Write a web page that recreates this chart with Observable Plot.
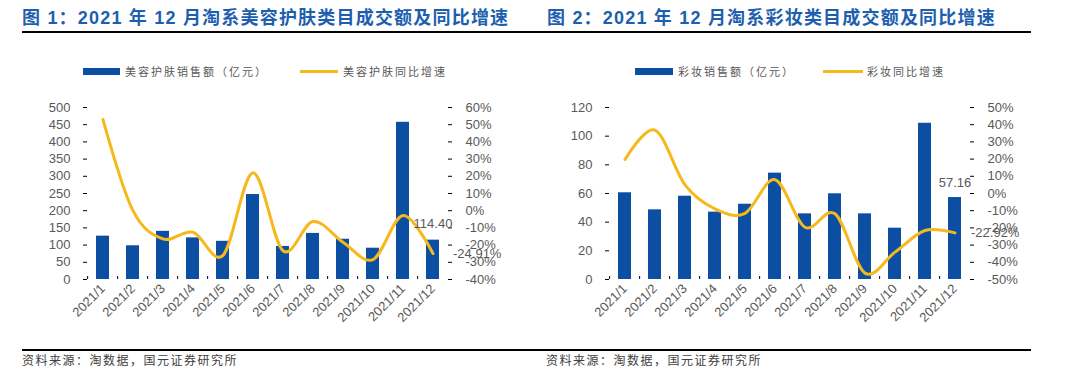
<!DOCTYPE html>
<html><head><meta charset="utf-8">
<script src="https://cdn.jsdelivr.net/npm/d3@7"></script>
<script src="https://cdn.jsdelivr.net/npm/@observablehq/plot@0.6"></script>
<style>
body{margin:0;background:#fff;}
#page{position:relative;width:1077px;height:384px;overflow:hidden;font-family:"Liberation Sans","Noto Sans CJK SC",sans-serif;background:#fff;}
.title{position:absolute;top:8px;line-height:20px;font-size:18px;font-weight:bold;color:#1d5fae;letter-spacing:1.2px;white-space:nowrap;}
.rule{position:absolute;left:22px;width:1009px;height:2px;background:#000;}
.lg{position:absolute;top:64px;line-height:14px;font-size:11px;color:#595959;letter-spacing:2px;white-space:nowrap;font-family:"Noto Sans CJK SC",sans-serif;}
.sw{position:absolute;}
.src{position:absolute;top:353px;line-height:14px;font-size:12px;color:#404040;letter-spacing:1.5px;white-space:nowrap;font-family:"Noto Sans CJK SC",sans-serif;}
.chart{position:absolute;top:95px;}
</style></head>
<body><div id="page">
<div class="title" style="left:22px">图 1：2021 年 12 月淘系美容护肤类目成交额及同比增速</div>
<div class="title" style="left:547px">图 2：2021 年 12 月淘系彩妆类目成交额及同比增速</div>
<div class="rule" style="top:31px"></div>
<div class="sw" style="left:83px;top:68px;width:37px;height:7px;background:#0b4ea2"></div>
<div class="lg" style="left:125px">美容护肤销售额（亿元）</div>
<div class="sw" style="left:300px;top:70px;width:38px;height:3px;background:#f5b91c"></div>
<div class="lg" style="left:343px">美容护肤同比增速</div>
<div class="sw" style="left:635px;top:68px;width:38px;height:7px;background:#0b4ea2"></div>
<div class="lg" style="left:678px">彩妆销售额（亿元）</div>
<div class="sw" style="left:823px;top:70px;width:40px;height:3px;background:#f5b91c"></div>
<div class="lg" style="left:867px">彩妆同比增速</div>
<div class="chart" id="c1" style="left:0px"></div>
<div class="chart" id="c2" style="left:540px"></div>
<div class="rule" style="top:349px"></div>
<div class="src" style="left:22px">资料来源：淘数据，国元证券研究所</div>
<div class="src" style="left:546px">资料来源：淘数据，国元证券研究所</div>
</div>
<script>
const months = ["2021/1","2021/2","2021/3","2021/4","2021/5","2021/6","2021/7","2021/8","2021/9","2021/10","2021/11","2021/12"];
const skinSales = [126, 98, 140, 121, 111, 247, 96, 134, 117, 91, 457, 114.40];
const skinYoY = [53, 0, -16.4, -12.5, -26, 22, -23.3, -6.3, -18.3, -28.4, -2.8, -24.91];
const makeupSales = [60.5, 48.6, 58.1, 47, 52.5, 74.2, 45.8, 59.8, 45.8, 35.8, 109, 57.16];
const makeupYoY = [19.8, 36.8, 5, -9, -11.5, 8, -19.6, -11.8, -46.3, -34.1, -21.5, -22.92];
const skinLeftTicks = [0, 50, 100, 150, 200, 250, 300, 350, 400, 450, 500];
const skinRightTicks = [-40, -30, -20, -10, 0, 10, 20, 30, 40, 50, 60];
const makeupLeftTicks = [0, 20, 40, 60, 80, 100, 120];
const makeupRightTicks = [-50, -40, -30, -20, -10, 0, 10, 20, 30, 40, 50];

const BLUE = "#0b4ea2", GOLD = "#f5b91c", GRAY = "#595959";

function dualChart({width, marginLeft, marginRight, sales, yoy, leftTicks, rightTicks, labelDy, labelDx}) {
  const leftMax = leftTicks[leftTicks.length - 1];
  const rMin = rightTicks[0], rMax = rightTicks[rightTicks.length - 1];
  const k = leftMax / (rMax - rMin);
  const toLeft = v => (v - rMin) * k;
  const fromLeft = p => Math.round(p / k + rMin);
  const rows = months.map((m, i) => ({m, s: sales[i], gy: toLeft(yoy[i])}));
  const last = [rows[rows.length - 1]];
  const plotW = width - marginLeft - marginRight, plotH = 172;
  const step = plotW / months.length;
  return Plot.plot({
    width, height: 240, marginTop: 12, marginBottom: 56, marginLeft, marginRight,
    style: {fontFamily: "Liberation Sans, Arial, sans-serif", fontSize: "13px", color: "#000", background: "transparent", overflow: "visible"},
    x: {type: "band", domain: months, paddingInner: 0.57, paddingOuter: 0.285, align: 0.5},
    y: {domain: [0, leftMax]},
    marks: [
      Plot.barY(rows, {x: "m", y: "s", fill: BLUE}),
      Plot.line(rows, {x: "m", y: "gy", stroke: GOLD, strokeWidth: 3, curve: "cardinal"}),
      Plot.ruleY(leftTicks, {y: d => d, insetRight: plotW - 4, stroke: "#000"}),
      Plot.ruleY(rightTicks.map(toLeft), {y: d => d, insetLeft: plotW - 4, stroke: "#000"}),
      Plot.ruleX(months, {x: d => d, dx: -step / 2, insetTop: plotH - 3, stroke: "#000"}),
      Plot.axisY(leftTicks, {anchor: "left", tickSize: 0, tickPadding: 13, line: true, fill: GRAY, stroke: "#000", label: null, fontSize: 13}),
      Plot.axisY(rightTicks.map(toLeft), {anchor: "right", tickSize: 0, tickPadding: 13, line: true, fill: GRAY, stroke: "#000", label: null, fontSize: 13, tickFormat: p => fromLeft(p) + "%"}),
      Plot.axisX({tickSize: 0, tickRotate: -45, tickPadding: 7, line: true, fill: GRAY, stroke: "#000", label: null, fontSize: 13}),
      Plot.text(last, {x: "m", y: "s", text: d => d.s.toFixed(2), dy: labelDy, fill: GRAY, fontSize: 13}),
      Plot.text(last, {x: "m", y: "gy", text: () => yoy[yoy.length - 1].toFixed(2) + "%", dx: labelDx, textAnchor: "start", fill: GRAY, fontSize: 13})
    ]
  });
}

document.getElementById("c1").append(dualChart({width: 540, marginLeft: 83, marginRight: 88, sales: skinSales, yoy: skinYoY, leftTicks: skinLeftTicks, rightTicks: skinRightTicks, labelDy: -16, labelDx: 20}));
document.getElementById("c2").append(dualChart({width: 537, marginLeft: 65, marginRight: 103, sales: makeupSales, yoy: makeupYoY, leftTicks: makeupLeftTicks, rightTicks: makeupRightTicks, labelDy: -15, labelDx: 16}));
</script>
</body></html>
